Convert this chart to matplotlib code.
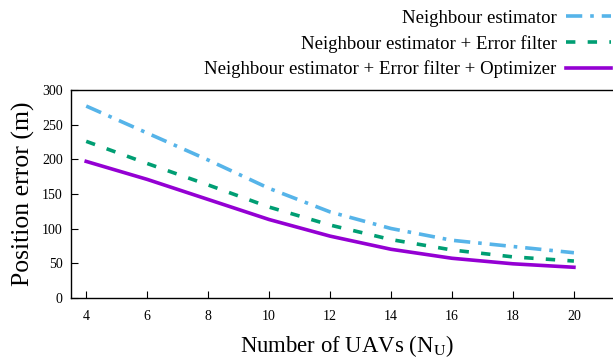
import matplotlib
matplotlib.use('Agg')
import matplotlib.pyplot as plt

plt.rcParams['font.family'] = ['Liberation Serif', 'DejaVu Serif']
plt.rcParams['mathtext.fontset'] = 'stix'

# number of UAVs and mean position error (m) for each method
n_uav = [4, 6, 8, 10, 12, 14, 16, 18, 20]
err_neigh = [277, 238, 199, 158, 124, 100, 83, 74, 65]
err_filter = [226, 194, 163, 131, 105, 84, 69, 59, 53]
err_optim = [197, 171, 142, 113, 89, 70, 57, 49, 44]

labels = ['Neighbour estimator',
          'Neighbour estimator + Error filter',
          'Neighbour estimator + Error filter + Optimizer']
xticks = [4, 6, 8, 10, 12, 14, 16, 18, 20]
yticks = [0, 50, 100, 150, 200, 250, 300]

fig = plt.figure(figsize=(6.13, 3.62), dpi=100)
ax = fig.add_axes([0.1158, 0.1776, 0.9, 0.5734])

ax.plot(n_uav, err_neigh, color='#56b4e9', lw=2.6, dashes=(4.5, 2.2, 1, 2.2),
        label=labels[0])
ax.plot(n_uav, err_filter, color='#009e73', lw=2.6, dashes=(2.6, 3.4),
        label=labels[1])
ax.plot(n_uav, err_optim, color='#9400d3', lw=2.6, label=labels[2])

# x axis runs off the right edge of the figure
ax.set_xlim(3.5, 21.6)
ax.set_ylim(0, 300)
ax.set_xticks(xticks)
ax.set_yticks(yticks)
ax.tick_params(direction='in', length=5, width=0.8, labelsize=10, pad=9)
ax.tick_params(axis='y', pad=6)
for s in ax.spines.values():
    s.set_linewidth(1.0)
ax.spines['right'].set_visible(False)

ax.set_xlabel(r'Number of UAVs (N$_{\mathrm{U}}$)', fontsize=16.4, labelpad=7)
ax.set_ylabel('Position error (m)', fontsize=18.5, labelpad=5)

leg = fig.legend(handles=ax.get_lines(), loc='upper right',
                 bbox_to_anchor=(1.012, 0.999), frameon=False,
                 markerfirst=False, fontsize=13.5, handlelength=2.4,
                 handletextpad=0.5, labelspacing=0.42, borderaxespad=0.1)
for t in leg.get_texts():
    t.set_ha('right')

fig.savefig('out.png', dpi=100)
